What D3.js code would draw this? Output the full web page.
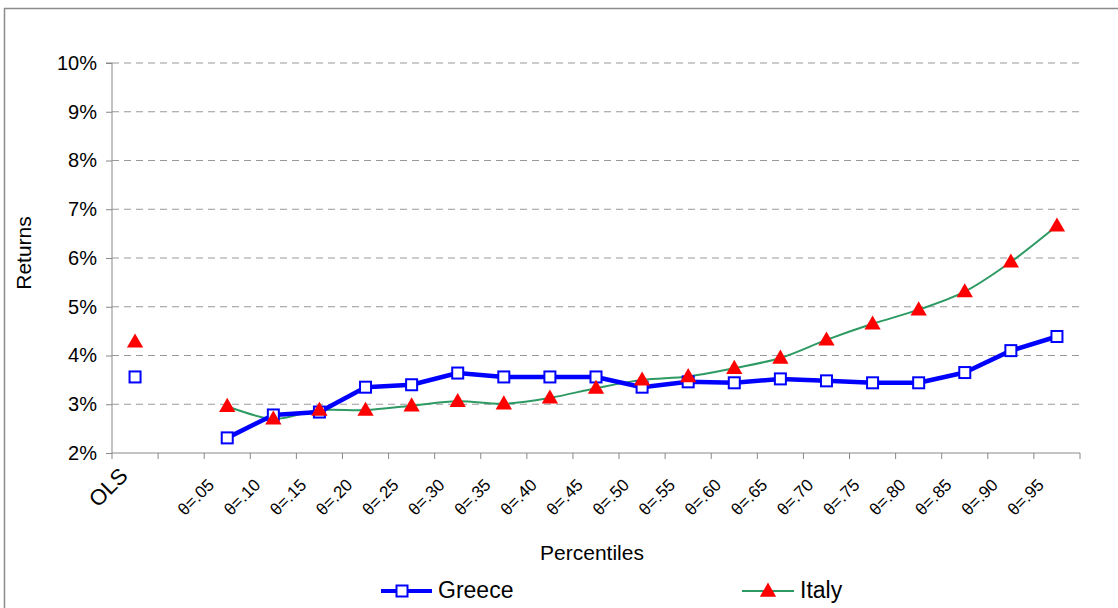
<!DOCTYPE html>
<html><head><meta charset="utf-8">
<script src="https://cdn.jsdelivr.net/npm/d3@7"></script>
<style>body{margin:0;background:#fff}svg{display:block;font-family:Arial,"Liberation Sans",sans-serif}</style>
</head><body>
<svg id="c" width="1118" height="608"></svg>
<script>
const categories = ["OLS","","θ=.05","θ=.10","θ=.15","θ=.20","θ=.25","θ=.30","θ=.35","θ=.40","θ=.45","θ=.50","θ=.55","θ=.60","θ=.65","θ=.70","θ=.75","θ=.80","θ=.85","θ=.90","θ=.95"];
const greece = [3.56,null,2.31,2.78,2.84,3.35,3.40,3.64,3.56,3.56,3.56,3.35,3.46,3.44,3.52,3.48,3.44,3.44,3.65,4.10,4.39];
const italy  = [4.28,null,2.96,2.70,2.88,2.88,2.97,3.06,3.01,3.13,3.33,3.50,3.57,3.74,3.95,4.32,4.65,4.94,5.31,5.92,6.66];
const yTicks = [2,3,4,5,6,7,8,9,10];

const svg = d3.select("#c");
svg.append("rect").attr("x",4.5).attr("y",8.5).attr("width",1300).attr("height",800)
  .attr("fill","none").attr("stroke","#8c8c8c").attr("stroke-width",1.5);

const L=112, R=1080, T=63, B=453;
const x = d3.scaleBand().domain(d3.range(categories.length)).range([L,R]);
const y = d3.scaleLinear().domain([2,10]).range([B,T]);
const cx = i => x(i)+x.bandwidth()/2;

// gridlines
svg.append("g").selectAll("line").data(yTicks.filter(d=>d>2)).join("line")
  .attr("x1",L).attr("x2",R).attr("y1",d=>y(d)).attr("y2",d=>y(d))
  .attr("stroke","#999").attr("stroke-dasharray","7,5").attr("stroke-width",1);

// y axis
const ya = svg.append("g").attr("transform",`translate(${L},0)`)
  .call(d3.axisLeft(y).tickValues(yTicks).tickFormat(d=>d+"%").tickSize(6).tickPadding(9));
ya.select(".domain").attr("stroke","#888").attr("d",`M-6,${T}H0V${B}`);
ya.selectAll(".tick line").attr("stroke","#888");
ya.selectAll("text").attr("font-size",20).attr("fill","#000").attr("font-family","Arial,'Liberation Sans',sans-serif");

// x axis
const xa = svg.append("g").attr("transform",`translate(0,${B})`);
xa.append("line").attr("x1",L).attr("x2",R).attr("stroke","#888");
xa.selectAll("line.t").data(d3.range(categories.length+1)).join("line").attr("class","t")
  .attr("x1",i=>L+i*x.bandwidth()).attr("x2",i=>L+i*x.bandwidth()).attr("y1",0).attr("y2",6).attr("stroke","#888");
xa.selectAll("text").data(categories).join("text")
  .attr("transform",(d,i)=>d==="OLS"?`translate(${cx(i)-6},${24}) rotate(-45)`:`translate(${cx(i)-12},${33}) rotate(-45)`)
  .attr("text-anchor","end").attr("font-size",d=>d==="OLS"?22:17).attr("fill","#000")
  .text(d=>d);

// axis titles
svg.append("text").attr("x",592).attr("y",560).attr("text-anchor","middle").attr("font-size",21).text("Percentiles");
svg.append("text").attr("transform","translate(31,253) rotate(-90)").attr("text-anchor","middle").attr("font-size",21).text("Returns");

// lines (skip OLS and gap)
const segIdx = d3.range(2,categories.length);
const italyLine = d3.line().x(i=>cx(i)).y(i=>y(italy[i])).curve(d3.curveCatmullRom.alpha(0.5));
svg.append("path").attr("d",italyLine(segIdx)).attr("fill","none").attr("stroke","#2e9a63").attr("stroke-width",2);
const greeceLine = d3.line().x(i=>cx(i)).y(i=>y(greece[i]));
svg.append("path").attr("d",greeceLine(segIdx)).attr("fill","none").attr("stroke","#0000ff").attr("stroke-width",4.5).attr("stroke-linejoin","round");

const tri = d3.symbol().type(d3.symbolTriangle).size(115);
const idx = d3.range(categories.length).filter(i=>greece[i]!=null);
svg.append("g").selectAll("rect").data(idx).join("rect")
  .attr("x",i=>cx(i)-5.5).attr("y",i=>y(greece[i])-5.5).attr("width",11).attr("height",11)
  .attr("fill","#fff").attr("stroke","#0000ff").attr("stroke-width",2);
svg.append("g").selectAll("path").data(idx).join("path")
  .attr("d",tri).attr("transform",i=>`translate(${cx(i)},${y(italy[i])+1})`).attr("fill","#ff0000");

// legend
const lg = svg.append("g");
lg.append("line").attr("x1",381).attr("x2",432).attr("y1",591).attr("y2",591).attr("stroke","#0000ff").attr("stroke-width",4);
lg.append("rect").attr("x",402-5.5).attr("y",591-5.5).attr("width",11).attr("height",11).attr("fill","#fff").attr("stroke","#0000ff").attr("stroke-width",2);
lg.append("text").attr("x",438).attr("y",598).attr("font-size",23).text("Greece");
lg.append("line").attr("x1",742).attr("x2",794).attr("y1",591).attr("y2",591).attr("stroke","#2e9a63").attr("stroke-width",2);
lg.append("path").attr("d",tri).attr("transform","translate(768,592)").attr("fill","#ff0000");
lg.append("text").attr("x",800).attr("y",598).attr("font-size",23).text("Italy");
</script>
</body></html>
